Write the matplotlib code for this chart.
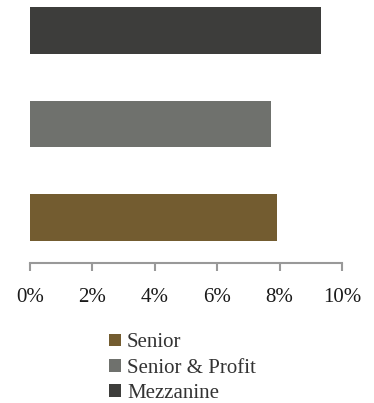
import matplotlib
matplotlib.use("Agg")
import matplotlib.pyplot as plt
from matplotlib.patches import Patch
from matplotlib.ticker import FuncFormatter

categories = ["Senior", "Senior & Profit", "Mezzanine"]
values = [7.92, 7.72, 9.33]
colors = ["#735c30", "#6f716d", "#3d3d3b"]
xticks = [0, 2, 4, 6, 8, 10]

plt.rcParams["font.family"] = ["Liberation Serif", "DejaVu Serif"]

W, H = 374, 403
fig = plt.figure(figsize=(W / 100, H / 100), dpi=100)
ax = fig.add_axes([30 / W, (H - 263) / H, 312 / W, 263 / H])

ypos = list(range(len(categories)))
ax.barh(ypos, values, height=0.5, color=colors)

ax.set_xlim(0, 10)
ax.set_ylim(-0.487, 2.326)
ax.set_xticks(xticks)
ax.xaxis.set_major_formatter(FuncFormatter(lambda v, p: f"{v:.0f}%"))
ax.set_yticks([])
for s in ["top", "right", "left"]:
    ax.spines[s].set_visible(False)
ax.spines["bottom"].set_color("#999999")
ax.spines["bottom"].set_linewidth(1.5)
ax.tick_params(axis="x", direction="out", length=6, width=1.5, color="#999999",
               labelsize=15, pad=12, labelcolor="#1a1a1a")

handles = [Patch(facecolor=c, edgecolor="none") for c in colors]
fig.legend(handles, categories, loc="upper left", bbox_to_anchor=(99 / W, 1 - 323 / H),
           frameon=False, fontsize=15, handlelength=0.55, handleheight=0.55,
           handletextpad=0.3, labelspacing=0.3, borderpad=0, labelcolor="#333333")

fig.savefig("out.png", dpi=100)
